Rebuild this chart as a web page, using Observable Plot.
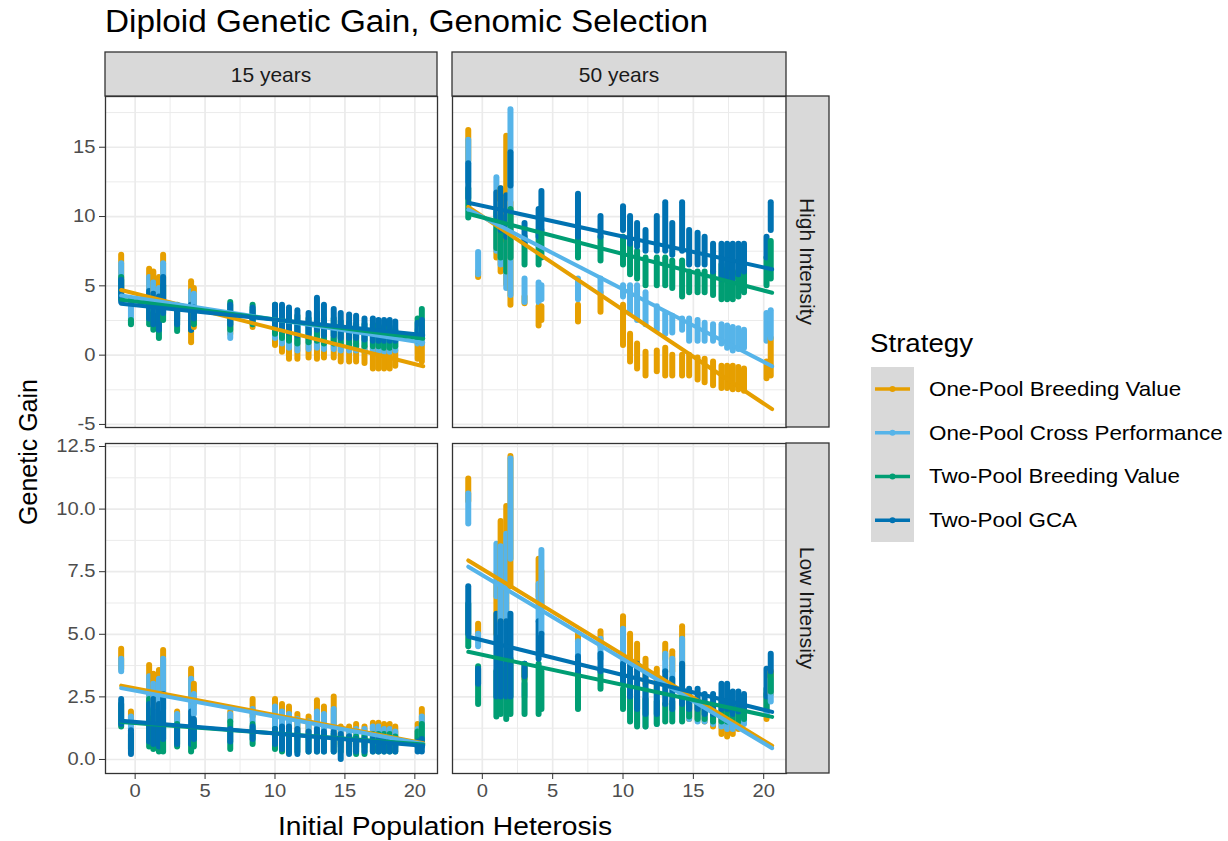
<!DOCTYPE html>
<html><head><meta charset="utf-8">
<script src="https://cdn.jsdelivr.net/npm/d3@7"></script>
<script src="https://cdn.jsdelivr.net/npm/@observablehq/plot@0.6"></script>
<style>
body{margin:0;background:#fff;}
#root{position:relative;width:1228px;height:841px;overflow:hidden;font-family:"Liberation Sans",Arial,sans-serif;background:#fff;}
#root > svg{position:absolute;}
#root svg.panel text{font-size:18px !important;font-family:"Liberation Sans",Arial,sans-serif !important;}
</style></head>
<body><div id="root"></div>
<script>
// ---------- data ----------
const strategies = ["One-Pool Breeding Value","One-Pool Cross Performance","Two-Pool Breeding Value","Two-Pool GCA"];
const colors = ["#E69F00","#56B4E9","#009E73","#0072B2"];
const years = ["15 years","50 years"];
const intensities = ["High Intensity","Low Intensity"];

const xMajor = [0,5,10,15,20];
const xMinor = [2.5,7.5,12.5,17.5];
const yMajorHigh = [-5,0,5,10,15];
const yMinorHigh = [-2.5,2.5,7.5,12.5,17.5];
const yMajorLow = [0,2.5,5,7.5,10,12.5];
const yMinorLow = [1.25,3.75,6.25,8.75,11.25];
const yLabelsLow = ["0.0","2.5","5.0","7.5","10.0","12.5"];

// rows: [heterosis, OPBV lo,hi, OPCP lo,hi, TPBV lo,hi, TPGCA lo,hi]
const high15 = [
 [-1, 4.8,7.2, 4.5,6.6, 4.0,5.6, 3.8,5.4],
 [-0.3, null,null, 2.3,4.0, 2.2,2.5, null,null],
 [1.0, 4.5,6.2, 3.5,5.6, 2.2,4.3, 2.6,4.6],
 [1.3, 4.2,6.0, 3.2,5.2, 1.8,3.8, 2.2,4.4],
 [1.7, 3.8,5.6, 3.0,4.8, 1.2,3.6, 1.8,4.2],
 [2.0, 4.0,7.2, 3.6,6.6, 2.5,5.0, 3.0,5.6],
 [3.0, 2.6,3.2, 2.5,3.5, 1.7,3.6, 2.2,3.4],
 [4.0, 0.9,5.3, 2.8,4.6, 1.8,3.5, 1.8,3.6],
 [4.2, 2.0,4.8, 3.0,4.4, 2.2,3.3, 2.6,3.4],
 [6.8, 1.5,2.5, 1.2,3.0, 1.8,3.8, 2.2,3.6],
 [8.4, 2.0,2.8, 2.3,3.2, 2.2,3.6, 2.5,3.4],
 [10.0, 0.7,2.2, 1.2,2.8, 1.5,3.6, 2.0,3.6],
 [10.5, 0.2,1.8, 0.8,2.4, 1.2,3.2, 1.8,3.6],
 [11.0, -0.3,1.5, 0.5,2.2, 1.0,3.0, 1.6,3.4],
 [11.6, -0.3,1.2, 0.3,2.0, 0.8,2.8, 1.4,3.2],
 [12.4, -0.2,1.2, 0.4,2.0, 0.9,2.6, 1.5,3.0],
 [13.0, -0.3,1.3, 0.5,2.2, 1.0,3.0, 1.8,4.1],
 [13.5, -0.2,1.0, 0.4,1.8, 0.8,2.6, 1.4,3.6],
 [14.2, -0.2,1.2, 0.4,2.0, 0.8,2.6, 1.4,3.3],
 [14.7, -0.5,0.8, 0.3,1.6, 0.8,2.4, 1.2,3.0],
 [15.3, -0.5,0.8, 0.3,1.6, 0.7,2.3, 1.2,2.9],
 [15.8, -0.5,0.8, 0.3,1.6, 0.6,2.2, 1.2,2.8],
 [16.4, -0.6,0.6, 0.3,1.5, 0.6,2.2, 1.1,2.6],
 [17.0, -1.0,0.5, 0.2,1.4, 0.6,2.2, 1.0,2.6],
 [17.4, -1.0,0.5, 0.2,1.4, 0.6,2.1, 1.0,2.5],
 [17.8, -1.0,0.4, 0.2,1.4, 0.5,2.0, 1.0,2.5],
 [18.2, -1.0,0.4, 0.2,1.3, 0.5,2.0, 1.0,2.5],
 [18.6, -0.8,0.3, 0.3,1.3, 0.6,1.8, 1.0,2.4],
 [20.2, -0.3,1.0, 0.8,1.8, 1.0,2.6, 1.2,2.3],
 [20.5, -0.5,1.2, 0.8,2.0, 1.2,3.3, 1.3,2.5]
];
const high50 = [
 [-1, 14.0,16.2, 12.5,15.5, 9.9,12.0, 11.3,13.8],
 [-0.3, 5.6,6.0, 5.8,7.4, null,null, null,null],
 [1.0, 7.0,9.0, 7.5,12.8, 7.7,10.3, 10.0,11.7],
 [1.3, 6.0,12.0, 6.5,11.0, 7.0,10.0, 9.0,12.0],
 [1.7, 5.1,15.8, 4.8,8.0, 6.0,10.0, 8.5,11.5],
 [2.0, 3.6,11.0, 4.3,17.7, 7.0,10.5, 12.2,14.6],
 [3.0, 3.7,4.2, 3.8,5.5, 6.5,8.5, 8.0,9.5],
 [4.0, 2.1,3.5, 3.8,5.2, 6.5,9.0, 8.5,10.5],
 [4.2, 2.5,3.5, 4.0,5.0, 7.0,9.0, 9.0,11.8],
 [6.8, 2.4,3.6, 4.0,5.5, 7.0,9.0, 8.5,11.6],
 [8.4, 3.1,4.5, 4.5,5.5, 6.8,8.5, 8.5,10.0],
 [10.0, 0.7,3.6, 4.2,5.0, 6.5,8.5, 9.0,10.7],
 [10.5, -0.5,1.5, 3.0,5.0, 5.8,8.0, 8.0,10.0],
 [11.0, -1.0,0.8, 2.5,5.0, 5.5,7.5, 7.8,9.5],
 [11.6, -1.5,0.2, 2.2,4.5, 5.0,7.0, 7.5,9.0],
 [12.4, -1.2,0.3, 1.8,3.5, 5.0,7.0, 7.5,10.0],
 [13.0, -1.5,0.5, 1.5,3.0, 5.0,7.0, 7.5,11.0],
 [13.5, -1.5,0.0, 1.6,2.8, 4.8,6.8, 7.2,9.5],
 [14.2, -1.5,0.0, 1.8,2.6, 4.2,6.8, 7.5,11.0],
 [14.7, -1.5,0.0, 1.0,2.6, 4.5,6.0, 6.5,9.0],
 [15.3, -1.8,-0.2, 1.0,2.5, 4.5,6.0, 6.5,8.8],
 [15.8, -2.0,-0.3, 1.0,2.3, 4.5,6.0, 6.5,8.5],
 [16.4, -2.2,-0.5, 1.0,2.2, 4.3,6.0, 6.0,8.0],
 [17.0, -2.4,-0.8, 0.8,2.2, 4.0,6.5, 5.5,8.0],
 [17.4, -2.4,-0.8, 0.5,2.1, 4.0,6.2, 5.5,8.0],
 [17.8, -2.5,-0.8, 0.3,2.0, 4.0,6.0, 5.5,8.0],
 [18.2, -2.5,-0.9, 0.4,1.9, 4.2,6.0, 5.8,8.0],
 [18.6, -2.6,-1.0, 0.5,1.8, 4.5,6.2, 6.0,8.0],
 [20.2, -1.7,-0.5, 1.0,3.0, 5.0,7.0, 7.0,8.5],
 [20.5, -1.5,1.2, 1.2,3.2, 5.5,8.2, 9.0,11.0]
];
const low15 = [
 [-1, 3.6,4.4, 3.5,4.0, 1.3,2.2, 1.4,2.4],
 [-0.3, 1.6,1.9, 1.2,1.7, 0.4,1.0, 0.2,1.15],
 [1.0, 2.0,3.75, 1.6,3.3, 0.5,2.4, 0.7,2.2],
 [1.3, 2.2,3.4, 1.8,3.0, 0.4,2.0, 0.6,2.4],
 [1.7, 2.0,3.55, 1.5,3.2, 0.3,1.8, 0.5,2.2],
 [2.0, 2.5,4.35, 2.0,4.0, 0.3,1.4, 0.8,2.6],
 [3.0, 1.5,1.9, 1.4,1.8, 0.5,1.4, 0.6,1.2],
 [4.0, 2.5,3.6, 2.0,3.2, 0.3,1.3, 0.6,1.9],
 [4.2, 2.2,3.0, 1.8,2.6, 0.5,1.5, 0.8,1.6],
 [6.8, 1.6,1.9, 1.5,1.8, 0.4,1.5, 0.7,1.2],
 [8.4, 1.7,2.4, 1.5,2.0, 0.6,1.4, 0.8,1.3],
 [10.0, 1.6,2.4, 1.2,2.1, 0.4,1.2, 0.6,1.2],
 [10.5, 1.4,2.2, 1.1,1.9, 0.3,1.1, 0.4,1.3],
 [11.0, 1.3,2.1, 1.0,1.8, 0.3,1.0, 0.2,1.3],
 [11.6, 1.0,1.8, 0.8,1.6, 0.3,1.0, 0.2,1.2],
 [12.4, 1.0,1.7, 0.8,1.5, 0.3,0.9, 0.3,1.1],
 [13.0, 1.3,2.35, 1.0,1.9, 0.3,1.0, 0.3,1.2],
 [13.5, 1.2,2.1, 1.0,1.8, 0.3,1.0, 0.3,1.1],
 [14.2, 1.2,2.5, 1.0,2.0, 0.3,1.0, 0.3,1.1],
 [14.7, 0.6,1.3, 0.5,1.1, 0.3,0.9, 0.0,1.0],
 [15.3, 0.6,1.3, 0.5,1.1, 0.3,0.9, 0.2,0.9],
 [15.8, 0.6,1.4, 0.5,1.2, 0.2,0.9, 0.3,0.8],
 [16.4, 0.6,1.3, 0.5,1.2, 0.2,0.9, 0.3,0.8],
 [17.0, 0.7,1.45, 0.6,1.3, 0.3,1.0, 0.3,0.8],
 [17.4, 0.7,1.45, 0.6,1.3, 0.3,1.0, 0.3,0.8],
 [17.8, 0.7,1.4, 0.6,1.2, 0.3,1.0, 0.3,0.8],
 [18.2, 0.7,1.4, 0.6,1.2, 0.3,1.0, 0.3,0.8],
 [18.6, 0.6,1.3, 0.5,1.1, 0.3,0.9, 0.3,0.7],
 [20.2, 0.8,1.4, 0.7,1.2, 0.5,1.1, 0.3,0.7],
 [20.5, 1.2,2.0, 0.9,1.7, 0.5,1.4, 0.3,0.8]
];
const low50 = [
 [-1, 10.3,11.2, 9.4,10.6, 4.5,6.2, 5.0,6.9],
 [-0.3, 5.0,5.4, 4.5,5.0, 2.2,3.7, 3.0,3.6],
 [1.0, 5.0,7.0, 6.5,8.6, 1.7,3.5, 2.5,5.8],
 [1.3, 5.5,9.5, 5.0,8.5, 1.8,3.6, 2.5,5.5],
 [1.7, 5.5,10.1, 4.8,9.0, 1.6,3.8, 2.5,5.5],
 [2.0, 6.9,12.1, 8.0,12.0, 1.8,4.0, 2.5,5.8],
 [3.0, 3.2,3.6, 2.5,3.0, 1.8,3.8, 3.3,3.8],
 [4.0, 6.5,8.0, 5.5,7.0, 1.8,3.8, 4.0,5.5],
 [4.2, 6.0,7.5, 5.0,8.35, 2.0,3.5, 4.2,5.0],
 [6.8, 4.6,5.0, 3.8,4.7, 2.0,3.6, 3.5,4.1],
 [8.4, 4.5,5.1, 4.0,4.8, 2.8,3.5, 3.5,4.2],
 [10.0, 4.6,5.7, 3.8,5.2, 2.0,2.8, 3.0,3.8],
 [10.5, 4.0,5.0, 2.0,3.5, 1.5,2.6, 2.5,3.8],
 [11.0, 3.6,4.6, 1.4,3.0, 1.3,2.4, 2.0,3.8],
 [11.6, 3.0,4.0, 1.3,2.8, 1.3,2.4, 1.8,3.4],
 [12.4, 2.8,3.6, 1.4,2.8, 1.4,2.3, 1.8,3.0],
 [13.0, 4.0,4.6, 3.5,4.2, 1.5,2.2, 2.2,3.5],
 [13.5, 3.5,4.3, 3.0,4.0, 1.5,2.3, 2.0,3.2],
 [14.2, 3.6,5.3, 3.0,4.8, 1.5,2.5, 2.2,3.8],
 [14.7, 1.6,2.2, 1.6,2.4, 1.7,2.4, 2.0,2.8],
 [15.3, 1.6,2.2, 1.5,2.2, 1.6,2.3, 2.0,2.8],
 [15.8, 1.5,2.0, 1.5,2.0, 1.6,2.2, 1.8,2.6],
 [16.4, 1.3,1.9, 1.4,2.0, 1.5,2.2, 1.8,2.6],
 [17.0, 1.0,1.8, 1.3,1.9, 1.5,2.3, 2.0,3.0],
 [17.4, 0.9,1.7, 1.2,1.9, 1.5,2.3, 2.0,3.0],
 [17.8, 1.0,1.6, 1.2,1.8, 1.5,2.1, 1.8,2.7],
 [18.2, 1.2,1.8, 1.3,1.9, 1.5,2.1, 1.9,2.7],
 [18.6, 1.5,2.0, 1.4,2.0, 1.6,2.2, 2.0,2.6],
 [20.2, 1.6,2.6, 1.8,2.6, 2.0,2.8, 2.5,3.6],
 [20.5, 2.6,3.5, 2.3,3.2, 2.7,3.4, 3.5,4.2]
];

// linear fits: heterosis range and fitted gain at its ends, per strategy
const fitX = [-1, 20.6];
const fitHigh15 = [[4.7,-0.8],[4.3,0.9],[4.0,1.2],[3.7,1.45]];
const fitHigh50 = [[10.7,-3.9],[10.5,-0.8],[10.2,4.5],[11.0,6.2]];
const fitLow15  = [[2.95,0.65],[2.85,0.62],[1.5,0.6],[1.55,0.55]];
const fitLow50  = [[7.95,0.55],[7.7,0.45],[4.3,1.7],[4.9,1.9]];

// ---------- drawing ----------
const root = document.getElementById("root");
const FONT = '"Liberation Sans", Arial, sans-serif';
const xDomain = [-2.12, 21.62];
const STRETCH = 1.12; // the reference's lettering is slightly wide

function toStripes(rows) {
  return rows.flatMap(r => strategies.map((s, i) => ({x: r[0], strategy: s, y1: r[1 + 2*i], y2: r[2 + 2*i]})))
             .filter(d => d.y1 != null);
}
function toFit(fit) {
  return fit.flatMap((f, i) => fitX.map((x, j) => ({x, y: f[j], strategy: strategies[i]})));
}

function panel(rows, fit, yDomain, yMajor, yMinor, yFmt, showX, showY, L, T, W, H) {
  const ml = showY ? 60 : 2, mr = 2, mt = 2, mb = showX ? 45 : 2;
  const marks = [
    Plot.ruleX(xMinor, {stroke: "#EBEBEB", strokeWidth: 1}),
    Plot.ruleY(yMinor, {stroke: "#EBEBEB", strokeWidth: 1}),
    Plot.ruleX(xMajor, {stroke: "#EBEBEB", strokeWidth: 1.7}),
    Plot.ruleY(yMajor, {stroke: "#EBEBEB", strokeWidth: 1.7}),
    Plot.ruleX(toStripes(rows), {x: "x", y1: "y1", y2: "y2", stroke: "strategy", strokeWidth: 6, strokeLinecap: "round"}),
    Plot.line(toFit(fit), {x: "x", y: "y", z: "strategy", stroke: "strategy", strokeWidth: 4}),
    Plot.frame({stroke: "#333333", strokeWidth: 1.3})
  ];
  if (showX) marks.push(Plot.axisX(xMajor, {tickSize: 6, tickPadding: 5, stroke: "#333333", fill: "#4D4D4D", fontSize: 18, label: null}));
  if (showY) marks.push(Plot.axisY(yMajor, {tickSize: 6, tickPadding: 4, stroke: "#333333", fill: "#4D4D4D", fontSize: 18, label: null, tickFormat: yFmt}));
  const p = Plot.plot({
    width: ml + W + mr, height: mt + H + mb,
    marginLeft: ml, marginRight: mr, marginTop: mt, marginBottom: mb,
    x: {domain: xDomain, axis: showX ? undefined : null},
    y: {domain: yDomain, axis: showY ? undefined : null},
    color: {domain: strategies, range: colors},
    style: {fontFamily: FONT, fontSize: "18px", color: "#4D4D4D", background: "transparent", overflow: "visible"},
    marks
  });
  p.classList.add("panel");
  p.style.position = "absolute";
  p.style.left = (L - ml) + "px";
  p.style.top = (T - mt) + "px";
  root.appendChild(p);
  // widen tick labels slightly, as in the reference
  p.querySelectorAll("text").forEach(t => {
    const w = t.getComputedTextLength();
    if (w > 0) { t.setAttribute("textLength", w * STRETCH); t.setAttribute("lengthAdjust", "spacingAndGlyphs"); }
  });
}

const cols = [{L: 105, W: 332}, {L: 452, W: 334}];
const rowsG = [{T: 96, H: 331}, {T: 443, H: 330}];
const yDomHigh = [-5.22, 18.66];
const yDomLow = [-0.56, 12.62];
const fmtHigh = d => String(d);
const fmtLow = d => yLabelsLow[yMajorLow.indexOf(d)];

panel(high15, fitHigh15, yDomHigh, yMajorHigh, yMinorHigh, fmtHigh, false, true,  cols[0].L, rowsG[0].T, cols[0].W, rowsG[0].H);
panel(high50, fitHigh50, yDomHigh, yMajorHigh, yMinorHigh, fmtHigh, false, false, cols[1].L, rowsG[0].T, cols[1].W, rowsG[0].H);
panel(low15,  fitLow15,  yDomLow,  yMajorLow,  yMinorLow,  fmtLow,  true,  true,  cols[0].L, rowsG[1].T, cols[0].W, rowsG[1].H);
panel(low50,  fitLow50,  yDomLow,  yMajorLow,  yMinorLow,  fmtLow,  true,  false, cols[1].L, rowsG[1].T, cols[1].W, rowsG[1].H);

// overlay: titles, strips, legend
const svg = d3.create("svg").attr("width", 1228).attr("height", 841)
  .style("left", "0px").style("top", "0px").style("font-family", FONT);
svg.append("text").attr("x", 105).attr("y", 32).attr("font-size", 31).attr("fill", "#000")
  .attr("textLength", 603).attr("lengthAdjust", "spacingAndGlyphs")
  .text("Diploid Genetic Gain, Genomic Selection");

cols.forEach((c, i) => {
  svg.append("rect").attr("x", c.L).attr("y", 52).attr("width", c.W).attr("height", 44)
    .attr("fill", "#D9D9D9").attr("stroke", "#333").attr("stroke-width", 1.3);
  svg.append("text").attr("x", c.L + c.W/2).attr("y", 74).attr("text-anchor", "middle")
    .attr("dominant-baseline", "central").attr("font-size", 21).attr("fill", "#1A1A1A").text(years[i]);
});
rowsG.forEach((r, i) => {
  svg.append("rect").attr("x", 786).attr("y", r.T).attr("width", 43).attr("height", r.H)
    .attr("fill", "#D9D9D9").attr("stroke", "#333").attr("stroke-width", 1.3);
  svg.append("text").attr("transform", `translate(807.5,${r.T + r.H/2}) rotate(90)`)
    .attr("text-anchor", "middle").attr("dominant-baseline", "central")
    .attr("font-size", 21).attr("fill", "#1A1A1A").text(intensities[i]);
});
svg.append("text").attr("transform", "translate(28,452) rotate(-90)").attr("text-anchor", "middle")
  .attr("dominant-baseline", "central").attr("font-size", 25).attr("fill", "#000").text("Genetic Gain");
svg.append("text").attr("x", 278).attr("y", 835)
  .attr("font-size", 26).attr("fill", "#000").attr("textLength", 334).attr("lengthAdjust", "spacingAndGlyphs")
  .text("Initial Population Heterosis");

svg.append("text").attr("x", 870).attr("y", 352).attr("font-size", 25).attr("fill", "#000")
  .attr("textLength", 103).attr("lengthAdjust", "spacingAndGlyphs").text("Strategy");
svg.append("rect").attr("x", 871).attr("y", 367).attr("width", 43).attr("height", 175).attr("fill", "#D9D9D9");
strategies.forEach((s, i) => {
  const cy = 367 + 43.75 * (i + 0.5);
  svg.append("line").attr("x1", 875).attr("x2", 910).attr("y1", cy).attr("y2", cy)
    .attr("stroke", colors[i]).attr("stroke-width", 3.5);
  svg.append("circle").attr("cx", 892.5).attr("cy", cy).attr("r", 3).attr("fill", colors[i]);
  svg.append("text").attr("transform", `translate(929,${cy}) scale(1.12,1)`).attr("dominant-baseline", "central")
    .attr("font-size", 20).attr("fill", "#000").text(s);
});
root.appendChild(svg.node());
</script>
</body></html>
